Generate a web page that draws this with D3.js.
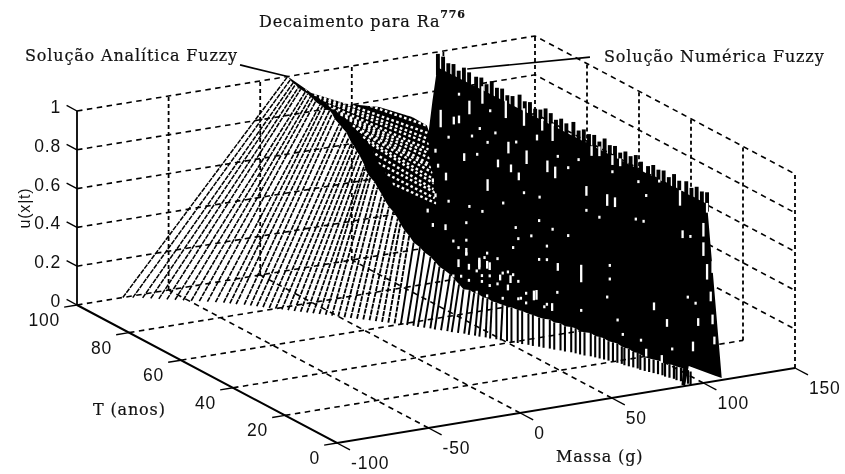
<!DOCTYPE html>
<html>
<head>
<meta charset="utf-8">
<script src="https://cdn.jsdelivr.net/npm/d3@7"></script>
<style>
html, body { margin: 0; background: #fff; }
svg { display: block; filter: blur(0.35px); }
.sans { font-family: "Liberation Sans", sans-serif; font-size: 17.5px; letter-spacing: 0.8px; fill: #111; }
.serif { font-family: "DejaVu Serif", serif; font-size: 16px; letter-spacing: 0.85px; fill: #111; stroke: #111; stroke-width: 0.2px; }
</style>
</head>
<body>
<svg id="chart" width="845" height="474"></svg>
<script>
const massTicks = [-100, -50, 0, 50, 100, 150];
const timeTicks = [0, 20, 40, 60, 80, 100];
const uTicks = [0, 0.2, 0.4, 0.6, 0.8, 1];

// analytic surface, one value per year, T = 0..100
const footMass = [93,93,92,92,91,91,90,89,89,88,87,
  86,85,84,84,83,82,81,81,80,79,
  78,77,76,75,74,72,71,70,69,67,
  66,64,63,61,60,58,57,55,54,52,
  51,49,48,46,45,43,42,40,39,37,
  35,34,32,30,29,27,25,24,22,20,
  18,16,14,12,10,8,6,4,2,0,
  -2,-4,-6,-8,-10,-12,-14,-16,-18,-20,
  -22,-24,-26,-28,-30,-33,-35,-37,-40,-43,
  -46,-49,-52,-55,-58,-61,-64,-67,-71,-75];
const crestMass = [93,93,92,92,91,91,90,89,89,88,87,
  86,85,84,84,83,82,81,81,80,79,
  78,77,76,75,74,72,71,70,69,67,
  66,64,63,61,60,58,57,55,54,52,
  51,50,48,47,46,45,44,43,42,40,
  39,38,37,35,34,33,32,30,29,27,
  26,25,24,24,23,22,21,21,20,20,
  19,19,19,20,20,20,20,20,20,20,
  20,19,19,18,18,18,17,17,17,16,
  16,16,16,16,15,15,15,15,15,15];
const crestU = [.07,.07,.07,.07,.07,.07,.07,.07,.07,.07,.07,
  .07,.07,.08,.08,.08,.09,.09,.09,.10,.10,
  .10,.11,.11,.11,.12,.12,.12,.13,.13,.13,
  .14,.14,.15,.15,.15,.16,.16,.17,.17,.18,
  .18,.18,.19,.19,.20,.20,.21,.21,.22,.22,
  .24,.26,.28,.30,.31,.33,.35,.37,.39,.41,
  .44,.46,.49,.51,.54,.56,.59,.61,.64,.66,
  .68,.69,.71,.72,.74,.76,.77,.79,.80,.82,
  .84,.86,.87,.89,.91,.92,.92,.93,.93,.94,
  .95,.95,.96,.96,.97,.97,.98,.98,.99,1.0];

// far side of the analytic surface, T = 70..100
const zoneYears = d3.range(70, 101);
const zoneStartMass = [31,31,30,30,30,29,29,29,29,29,28,28,28,28,28,28,28,28,27,27,27,26,26,26,25,25,24,24,23,23,22];
const zoneStartU = [.605,.63,.65,.67,.69,.71,.73,.75,.77,.79,.80,.81,.82,.83,.83,.84,.85,.86,.86,.87,.88,.88,.89,.89,.90,.91,.91,.92,.92,.93,.94];
const zoneEndMass = [53,55,56,57,59,60,61,62,64,65,66,67,68,70,71,72,73,74,75,77,78,79,81,82,84,85,86,87,89,90,92];
const zoneEndU = [.49,.49,.50,.50,.50,.51,.51,.51,.52,.52,.52,.53,.53,.54,.54,.55,.55,.55,.56,.56,.56,.57,.57,.57,.58,.58,.58,.59,.59,.60,.60];

// T = 100 silhouette after the apex, then the left edge of the numeric spike
const edgeMass = [28,47,65,83,91,92,94,96,97];
const edgeU = [.895,.81,.765,.686,.63,.60,.75,.88,.92];
// T = 0 outline of the numeric sheet, top to bottom
const sheetEndMass = [102,110,106,92,90,88];
const sheetEndU = [.92,.01,.03,.10,0,.01];

// numeric sheet crest, T = 0,2,..,100
const toothYears = d3.range(0, 101, 2);
const toothMass = [102,102,102,102,102,101,101,101,101,101,101,101,
  100,100,100,100,100,100,100,100,100,100,100,100,100,100,
  99,99,99,99,99,99,99,99,99,99,98,98,98,98,98,98,98,98,97,97,97,97,97,97,97];
const toothU = [.98,.97,.98,.96,.98,.97,.99,.96,.98,.97,.98,.96,.97,.99,.97,.98,.96,.98,.97,.99,.96,.98,.97,.98,.96,.99,
  .97,.98,.96,.98,.99,.97,.96,.98,.97,.99,.97,.96,.98,.97,.99,.96,.98,.97,.98,.99,.96,.98,.97,.99,.99];

// gaps seen in the dark mesh
const holeMass = [100,100,100,100,100,100,100,100,100,100,100,100,100,100,100,100,100,100,100,100,100,100,100,100,100,100,100,
  100,100,100,100,100,100,100,100,100,100,100,100,100,100,100,100,100,100,100,100,100,100,100,100,100,100,100,100,100,
  100,100,100,100,100,100,100,100,100,100,100,100,100,100,100,100,100,100,100,
  100,102,104,105,106,105,102,100,
  60,60,60,60,60,60,60,60,60,60,60,60,60,60,60,60,60,60,60,60,60,60,60,60,60,60,60,60,60,60,60,60,
  60,60,60,60,60,60,60,60,60,60,60,60,60,60,60,60,60,60,60,60,60,60,
  90,90,90,90,90,90,90];
const holeYear = [90,85,76,69,62,58,68,75,83,99,60,57,37,34,45,9,43,40,35,32,92,79,74,71,64,96,94,
  94,82,89,86,80,83,98,72,87,56,52,48,25,17,35,22,45,85,69,63,98,90,77,52,58,26,23,40,8,
  5,47,56,36,36,19,6,3,14,37,33,47,24,31,22,12,16,2,4,
  0,0,0,0,0,0,0,0,
  36,28,30,32,42,46,55,58,63,49,66,63,58,56,54,62,59,57,54,50,47,45,43,47,51,54,57,62,65,68,71,40,
  37,43,49,55,59,40,33,32,35,71,63,68,63,66,51,55,44,43,38,45,35,32,
  96,95,97,96,99,97,94];
const holeU = [.78,.88,.87,.88,.89,.88,.68,.68,.43,.36,.69,.68,.68,.69,.67,.89,.89,.91,.90,.91,.51,.57,.58,.56,.81,.67,.69,
  .82,.82,.64,.70,.72,.65,.57,.73,.56,.77,.74,.81,.86,.92,.84,.81,.57,.28,.49,.51,.24,.27,.38,.39,.38,.66,.67,.57,.71,
  .72,.23,.20,.35,.28,.26,.40,.39,.21,.18,.09,.04,.05,.03,.00,.09,.01,.30,.16,
  .69,.57,.44,.32,.21,.59,.90,.79,
  .26,.33,.24,.24,.20,.27,.28,.27,.28,.28,.21,.29,.26,.31,.28,.22,.22,.21,.23,.25,.30,.30,.28,.22,.21,.18,.18,.15,.15,.13,.10,.24,
  .25,.19,.15,.12,.11,.19,.22,.47,.45,.36,.44,.31,.35,.29,.34,.34,.55,.50,.55,.44,.65,.54,
  .53,.46,.37,.30,.20,.14,.71];
const holeSpan = [.07,.09,.09,.09,.06,.09,.07,.06,.06,.04,.06,.06,.06,.05,.05,.08,.05,.05,.05,.04,.04,.04,.04,.04,.03,.04,.04,
  .015,.015,.015,.015,.015,.015,.015,.015,.015,.015,.015,.015,.015,.015,.015,.015,.015,.015,.015,.015,.015,.015,.015,.015,.015,.015,.015,.015,.04,
  .015,.09,.04,.015,.015,.04,.015,.015,.04,.015,.015,.015,.015,.015,.04,.015,.04,.04,.05,
  .07,.08,.05,.05,.04,.06,.05,.07,
  .05,.015,.04,.015,.015,.04,.04,.05,.015,.015,.04,.04,.05,.015,.04,.03,.015,.015,.015,.03,.015,.015,.015,.03,.015,.015,.015,.015,.015,.015,.015,.015,
  .05,.015,.015,.015,.015,.015,.015,.015,.015,.03,.015,.015,.015,.015,.015,.015,.015,.015,.015,.015,.015,.015,
  .02,.02,.02,.02,.02,.02,.09];

// leader lines to the two labels, on the T = 100 wall
const leaderAnalyticMass = [-11, 15];
const leaderAnalyticU = [1.10, 1.0];
const leaderNumericMass = [113, 180];
const leaderNumericU = [.887, .845];

const massX = d3.scaleLinear().domain([-100, 150]).range([0, 458]);
const massY = d3.scaleLinear().domain([-100, 150]).range([0, -75]);
const timeX = d3.scaleLinear().domain([0, 100]).range([0, -260]);
const timeY = d3.scaleLinear().domain([0, 100]).range([0, -138]);
const uY = d3.scaleLinear().domain([0, 1]).range([0, -194]);

const originX = 337, originY = 443;

// mass, time and u(x|t) to a point on the page
function project(m, t, u) {
    return [originX + massX(m) + timeX(t), originY + massY(m) + timeY(t) + uY(u)];
}

const svg = d3.select('#chart');
const line = d3.line();

function addLine(parent, pts, width, dash) {
    return parent.append('path')
        .attr('d', line(pts))
        .attr('fill', 'none')
        .attr('stroke', '#000')
        .attr('stroke-width', width)
        .attr('stroke-dasharray', dash || null);
}

// dashed box grid
const grid = svg.append('g');
const gridDash = '5.5 4.5';
uTicks.filter(u => u > 0).forEach(u => {
    addLine(grid, [project(-100, 100, u), project(150, 100, u), project(150, 0, u)], 1.6, gridDash);
});
massTicks.slice(1).forEach(m => {
    addLine(grid, [project(m, 100, 0), project(m, 100, 1)], 1.8, '4 3');
    if (m < 150) addLine(grid, [project(m, 0, 0), project(m, 100, 0)], 1.6, gridDash);
});
timeTicks.slice(0, 5).forEach(t => {
    addLine(grid, [project(150, t, 0), project(150, t, 1)], 1.8, '4 3');
});
timeTicks.slice(1).forEach(t => {
    addLine(grid, [project(-100, t, 0), project(150, t, 0)], 1.6, gridDash);
});

// analytic surface, lower part
const years = d3.range(0, 101);
const hatch = svg.append('g');
const hatchWidth = d3.scaleLinear().domain([0, 60, 100]).range([2.2, 1.9, 1.5]);
years.forEach(t => {
    addLine(hatch, [project(footMass[t], t, 0), project(crestMass[t], t, crestU[t])],
        hatchWidth(t), t > 60 ? '5 1' : null);
});

// dark region: crest, T = 100 edge, sheet top, T = 0 end
const outline = [];
years.slice(2).forEach(t => outline.push(project(crestMass[t], t, crestU[t])));
edgeMass.forEach((m, i) => outline.push(project(m, 100, edgeU[i])));
sheetEndMass.forEach((m, i) => outline.push(project(m, 0, sheetEndU[i])));
svg.append('path').attr('d', line(outline) + 'Z').attr('fill', '#000');

// far side mesh: white cells along the year rows, staggered row by row
const zoneStart = zoneYears.map((t, i) => project(zoneStartMass[i], t, zoneStartU[i]));
const zoneEnd = zoneYears.map((t, i) => project(zoneEndMass[i], t, zoneEndU[i]));
const zoneTop = edgeMass.slice(0, 6).map((m, i) => project(m, 100, edgeU[i]));
const zoneShape = line(zoneStart.concat(zoneTop, zoneEnd.slice().reverse())) + 'Z';
svg.append('clipPath').attr('id', 'zoneClip').append('path').attr('d', zoneShape);

const mesh = svg.append('g').attr('clip-path', 'url(#zoneClip)');
const lastZone = zoneYears.length - 1;
function addCells(pts, shift) {
    mesh.append('path')
        .attr('d', line(pts))
        .attr('fill', 'none')
        .attr('stroke', '#fff')
        .attr('stroke-width', 2.4)
        .attr('stroke-dasharray', '2.6 2.5')
        .attr('stroke-dashoffset', shift);
}
zoneYears.forEach((t, i) => {
    if (i % 2 === 1) addCells([zoneStart[i], zoneEnd[i]], (i % 4 === 1) ? 0 : 2.5);
});
// rows between the T = 100 row and the silhouette above it
[1, 2, 3].forEach(k => {
    addCells([
        project(zoneStartMass[lastZone], 100, zoneStartU[lastZone] + k * 0.024),
        project(zoneEndMass[lastZone], 100, zoneEndU[lastZone] + k * 0.024)
    ], (k % 2) * 2.5);
});

// numeric sheet teeth
const teeth = svg.append('g');
toothYears.forEach((t, i) => {
    addLine(teeth, [project(toothMass[i], t, 0.88), project(toothMass[i], t, toothU[i])], 3.9);
});

// white gaps
const holes = svg.append('g');
holeMass.forEach((m, i) => {
    const p0 = project(m, holeYear[i], holeU[i] - holeSpan[i] / 2);
    const p1 = project(m, holeYear[i], holeU[i] + holeSpan[i] / 2);
    holes.append('line')
        .attr('x1', p0[0]).attr('y1', p0[1])
        .attr('x2', p1[0]).attr('y2', p1[1])
        .attr('stroke', '#fff')
        .attr('stroke-width', 2.3);
});

// axes
const axes = svg.append('g');
addLine(axes, [project(-100, 100, 0), project(-100, 100, 1)], 1.8);
addLine(axes, [project(-100, 100, 0), project(-100, 0, 0), project(150, 0, 0)], 2);
uTicks.forEach(u => addLine(axes, [project(-100, 100, u), project(-100, 104, u)], 1.4));
timeTicks.forEach(t => addLine(axes, [project(-100, t, 0), project(-107, t, 0)], 1.4));
massTicks.forEach(m => addLine(axes, [project(m, 0, 0), project(m, -5, 0)], 1.4));

uTicks.forEach(u => {
    const p = project(-100, 100, u);
    svg.append('text').attr('class', 'sans')
        .attr('x', 61).attr('y', p[1] + 2)
        .attr('text-anchor', 'end').text(u);
});
timeTicks.forEach(t => {
    const p = project(-100, t, 0);
    svg.append('text').attr('class', 'sans')
        .attr('x', p[0] - 17).attr('y', p[1] + 21)
        .attr('text-anchor', 'end').text(t);
});
massTicks.forEach(m => {
    const p = project(m, 0, 0);
    svg.append('text').attr('class', 'sans')
        .attr('x', p[0] + 14).attr('y', p[1] + 26)
        .text(m);
});

// leaders and labels
addLine(svg, leaderAnalyticMass.map((m, i) => project(m, 100, leaderAnalyticU[i])), 1.7);
addLine(svg, leaderNumericMass.map((m, i) => project(m, 100, leaderNumericU[i])), 1.7);

const title = svg.append('text').attr('class', 'serif').attr('x', 259).attr('y', 27);
title.append('tspan').text('Decaimento para Ra');
title.append('tspan').attr('dy', -9).attr('font-size', 11).attr('font-weight', 'bold').text('776');
svg.append('text').attr('class', 'serif').attr('x', 25).attr('y', 61).text('Solução Analítica Fuzzy');
svg.append('text').attr('class', 'serif').attr('x', 604).attr('y', 62).text('Solução Numérica Fuzzy');
svg.append('text').attr('class', 'serif').attr('x', 93).attr('y', 415).text('T (anos)');
svg.append('text').attr('class', 'serif').attr('x', 556).attr('y', 462).text('Massa (g)');
svg.append('text').attr('class', 'sans')
    .attr('transform', 'translate(30,208) rotate(-90)')
    .attr('text-anchor', 'middle')
    .style('font-size', '16px')
    .text('u(x|t)');
</script>
</body>
</html>
